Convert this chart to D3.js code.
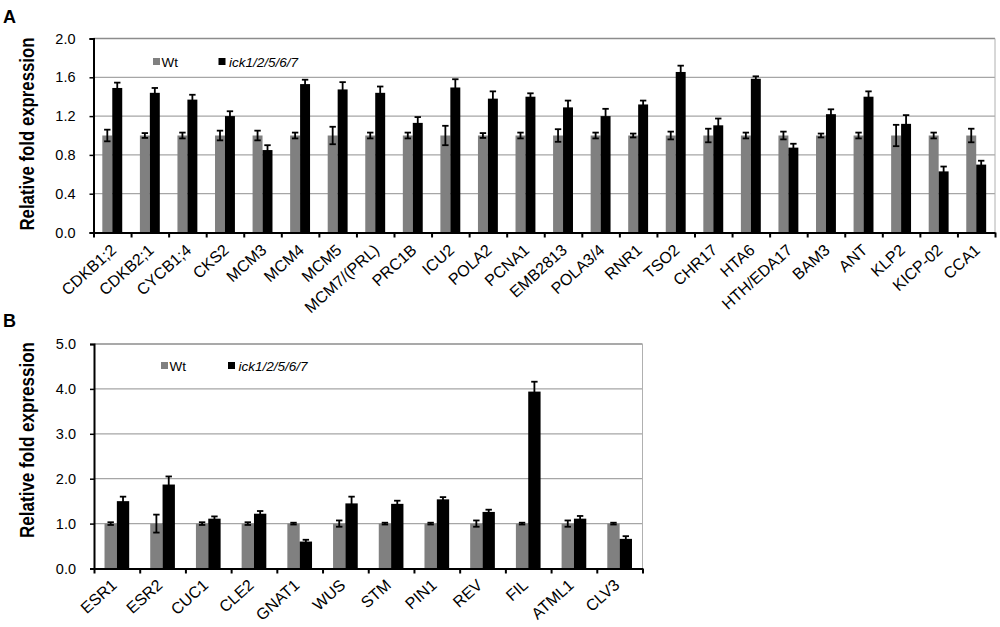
<!DOCTYPE html>
<html>
<head>
<meta charset="utf-8">
<script src="https://cdn.jsdelivr.net/npm/d3@7"></script>
<style>
  body { margin: 0; background: #fff; }
  svg { font-family: "Liberation Sans", Arial, sans-serif; }
</style>
</head>
<body>
<script>
'use strict';

const width = 1000;
const height = 627;

// panel A
const genesA = ['CDKB1;2', 'CDKB2;1', 'CYCB1;4', 'CKS2', 'MCM3', 'MCM4', 'MCM5', 'MCM7/(PRL)',
  'PRC1B', 'ICU2', 'POLA2', 'PCNA1', 'EMB2813', 'POLA3/4', 'RNR1', 'TSO2', 'CHR17', 'HTA6',
  'HTH/EDA17', 'BAM3', 'ANT', 'KLP2', 'KICP-02', 'CCA1'];
const wtA = [1, 1, 1, 1, 1, 1, 1, 1, 1, 1, 1, 1, 1, 1, 1, 1, 1, 1, 1, 1, 1, 1, 1, 1];
const wtErrA = [0.06, 0.025, 0.03, 0.05, 0.05, 0.03, 0.09, 0.03, 0.03, 0.1, 0.025, 0.03,
  0.065, 0.03, 0.02, 0.04, 0.07, 0.03, 0.04, 0.02, 0.03, 0.11, 0.03, 0.07];
const mutA = [1.49, 1.44, 1.37, 1.2, 0.85, 1.53, 1.475, 1.44, 1.13, 1.495, 1.38, 1.4,
  1.29, 1.2, 1.32, 1.655, 1.105, 1.585, 0.875, 1.22, 1.4, 1.12, 0.63, 0.7];
const mutErrA = [0.055, 0.05, 0.05, 0.05, 0.05, 0.045, 0.075, 0.065, 0.06, 0.085, 0.075, 0.035,
  0.07, 0.075, 0.04, 0.065, 0.07, 0.025, 0.04, 0.05, 0.055, 0.09, 0.05, 0.04];
const ticksA = [0, 0.4, 0.8, 1.2, 1.6, 2.0];

// panel B
const genesB = ['ESR1', 'ESR2', 'CUC1', 'CLE2', 'GNAT1', 'WUS', 'STM', 'PIN1', 'REV', 'FIL', 'ATML1', 'CLV3'];
const wtB = [1, 1, 1, 1, 1, 1, 1, 1, 1, 1, 1, 1];
const wtErrB = [0.03, 0.2, 0.03, 0.03, 0.02, 0.07, 0.02, 0.02, 0.07, 0.02, 0.07, 0.02];
const mutB = [1.5, 1.87, 1.11, 1.22, 0.6, 1.45, 1.44, 1.54, 1.26, 3.94, 1.11, 0.66];
const mutErrB = [0.1, 0.18, 0.05, 0.06, 0.04, 0.15, 0.07, 0.05, 0.05, 0.22, 0.06, 0.06];
const ticksB = [0, 1, 2, 3, 4, 5];

const seriesNames = ['Wt', 'ick1/2/5/6/7'];
const seriesColors = ['#808080', '#000000'];

const svg = d3.select('body')
  .append('svg')
  .attr('width', width)
  .attr('height', height);

function drawPanel(opts) {
  const w = opts.right - opts.left;
  const h = opts.bottom - opts.top;
  const g = svg.append('g').attr('transform', `translate(${opts.left}, ${opts.top})`);

  const rows = opts.genes.map((gene, i) => ({
    gene: gene,
    vals: [
      { s: 0, v: opts.wt[i], e: opts.wtErr[i] },
      { s: 1, v: opts.mut[i], e: opts.mutErr[i] }
    ]
  }));

  const x0 = d3.scaleBand()
    .domain(opts.genes)
    .range([0, w])
    .paddingInner(opts.pad)
    .paddingOuter(opts.pad / 2);

  const x1 = d3.scaleBand()
    .domain([0, 1])
    .range([0, x0.bandwidth()]);

  const xIdx = d3.scaleLinear()
    .domain([0, opts.genes.length])
    .range([0, w]);

  const y = d3.scaleLinear()
    .domain([0, d3.max(opts.ticks)])
    .range([h, 0]);

  // grid
  g.selectAll('line.grid')
    .data(opts.ticks.slice(1))
    .enter()
    .append('line')
    .attr('class', 'grid')
    .attr('x1', 0)
    .attr('x2', w)
    .attr('y1', (d) => y(d))
    .attr('y2', (d) => y(d))
    .attr('stroke', (d, i, a) => i === a.length - 1 ? '#8c8c8c' : '#a6a6a6')
    .attr('stroke-width', 1.3);

  g.append('line')
    .attr('x1', w).attr('x2', w)
    .attr('y1', 0).attr('y2', h)
    .attr('stroke', '#b0b0b0')
    .attr('stroke-width', 1);

  // bars
  const groups = g.selectAll('g.gene')
    .data(rows)
    .enter()
    .append('g')
    .attr('class', 'gene')
    .attr('transform', (d) => `translate(${x0(d.gene)}, 0)`);

  groups.selectAll('rect')
    .data((d) => d.vals)
    .enter()
    .append('rect')
    .attr('x', (d) => x1(d.s))
    .attr('y', (d) => y(d.v))
    .attr('width', x1.bandwidth())
    .attr('height', (d) => h - y(d.v))
    .attr('fill', (d) => seriesColors[d.s]);

  // error bars
  const cap = 3.2;
  const err = groups.selectAll('g.err')
    .data((d) => d.vals)
    .enter()
    .append('g')
    .attr('class', 'err')
    .attr('stroke', '#000')
    .attr('stroke-width', 1.8);

  err.append('line')
    .attr('x1', (d) => x1(d.s) + x1.bandwidth() / 2)
    .attr('x2', (d) => x1(d.s) + x1.bandwidth() / 2)
    .attr('y1', (d) => y(d.v + d.e))
    .attr('y2', (d) => y(d.v - d.e));

  err.append('line')
    .attr('x1', (d) => x1(d.s) + x1.bandwidth() / 2 - cap)
    .attr('x2', (d) => x1(d.s) + x1.bandwidth() / 2 + cap)
    .attr('y1', (d) => y(d.v + d.e))
    .attr('y2', (d) => y(d.v + d.e));

  err.append('line')
    .attr('x1', (d) => x1(d.s) + x1.bandwidth() / 2 - cap)
    .attr('x2', (d) => x1(d.s) + x1.bandwidth() / 2 + cap)
    .attr('y1', (d) => y(d.v - d.e))
    .attr('y2', (d) => y(d.v - d.e));

  // y axis
  const yAxis = d3.axisLeft(y)
    .tickValues(opts.ticks)
    .tickSize(4)
    .tickPadding(14)
    .tickFormat(d3.format('.1f'));

  const ya = g.append('g').call(yAxis);
  ya.select('.domain').attr('stroke-width', 2);
  ya.selectAll('.tick line').attr('stroke-width', 1.5);
  ya.selectAll('.tick text')
    .attr('font-size', '14.5px')
    .attr('font-family', '"Liberation Sans", Arial, sans-serif')
    .attr('fill', '#000');

  // x axis ticks at category boundaries
  const xa = g.append('g')
    .attr('transform', `translate(0, ${h})`)
    .call(d3.axisBottom(xIdx)
      .tickValues(d3.range(opts.genes.length + 1))
      .tickSize(5)
      .tickSizeOuter(0)
      .tickFormat(''));
  xa.select('.domain').attr('stroke-width', 2);
  xa.selectAll('.tick line').attr('stroke-width', 2);

  // category labels
  g.selectAll('text.cat')
    .data(opts.genes)
    .enter()
    .append('text')
    .attr('class', 'cat')
    .attr('text-anchor', 'end')
    .attr('font-size', '16px')
    .attr('transform', (d) => `translate(${x0(d) + x0.bandwidth() / 2 + opts.labelDx}, ${h + opts.labelDy}) rotate(-42)`)
    .text((d) => d);

  // y title
  g.append('text')
    .attr('transform', `translate(${34 - opts.left}, ${opts.titleY - opts.top}) rotate(-90)`)
    .attr('text-anchor', 'middle')
    .attr('font-size', '20px')
    .attr('font-weight', 'bold')
    .attr('textLength', opts.titleLen)
    .attr('lengthAdjust', 'spacingAndGlyphs')
    .text('Relative fold expression');

  // legend
  const leg = g.append('g')
    .attr('transform', `translate(${opts.legendX - opts.left}, ${opts.legendY - opts.top})`);
  const items = leg.selectAll('g')
    .data(seriesNames)
    .enter()
    .append('g')
    .attr('transform', (d, i) => `translate(${i * opts.legendGap}, 0)`);
  items.append('rect')
    .attr('x', 0)
    .attr('y', -8.5)
    .attr('width', 7)
    .attr('height', 7)
    .attr('fill', (d, i) => seriesColors[i]);
  items.append('text')
    .attr('x', (d, i) => i === 1 ? 10.5 : 8.5)
    .attr('y', 0)
    .attr('font-size', '13.5px')
    .attr('font-style', (d, i) => i === 1 ? 'italic' : 'normal')
    .text((d) => d);

  // panel letter
  svg.append('text')
    .attr('x', 3)
    .attr('y', opts.letterY)
    .attr('font-size', '18px')
    .attr('font-weight', 'bold')
    .text(opts.letter);
}

drawPanel({
  letter: 'A', letterY: 23,
  left: 93.5, right: 995, top: 38.5, bottom: 232.5,
  genes: genesA, wt: wtA, wtErr: wtErrA, mut: mutA, mutErr: mutErrA,
  ticks: ticksA, pad: 0.47, labelDx: 5, labelDy: 19,
  titleY: 134, titleLen: 193,
  legendX: 153, legendY: 66.5, legendGap: 65.5
});

drawPanel({
  letter: 'B', letterY: 327,
  left: 94, right: 642.5, top: 344, bottom: 568.5,
  genes: genesB, wt: wtB, wtErr: wtErrB, mut: mutB, mutErr: mutErrB,
  ticks: ticksB, pad: 0.46, labelDx: 1, labelDy: 18,
  titleY: 440, titleLen: 196,
  legendX: 161, legendY: 370.5, legendGap: 67
});
</script>
</body>
</html>
